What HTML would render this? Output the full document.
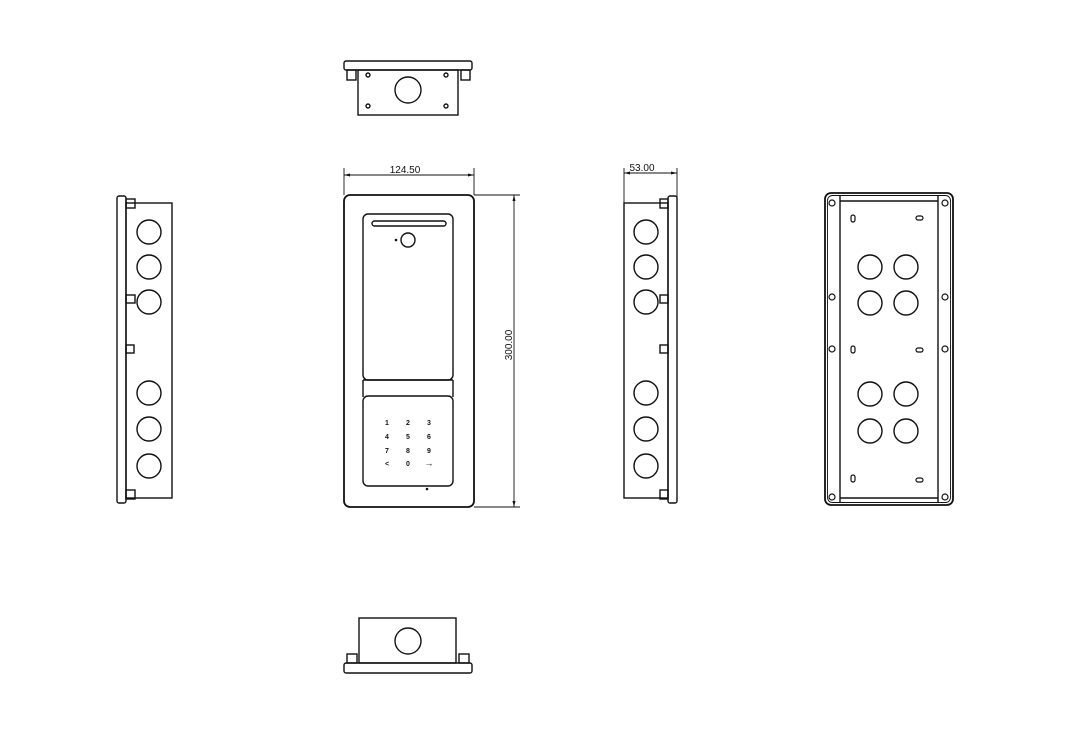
<!DOCTYPE html>
<html><head><style>html,body{margin:0;padding:0;background:#fff}svg{display:block}</style></head><body>
<svg width="1080" height="741" viewBox="0 0 1080 741" xmlns="http://www.w3.org/2000/svg" font-family="Liberation Sans, sans-serif">
<g fill="none" stroke="#111" stroke-width="1.4">
<!-- top view -->
<rect x="344" y="61" width="128" height="9" rx="2"/>
<rect x="347" y="70" width="9" height="10"/><rect x="461" y="70" width="9" height="10"/>
<rect x="358" y="70" width="100" height="45"/>
<circle cx="408" cy="90" r="13"/>
<circle cx="368" cy="75" r="2"/><circle cx="446" cy="75" r="2"/><circle cx="368" cy="106" r="2"/><circle cx="446" cy="106" r="2"/>
<!-- bottom view -->
<rect x="359" y="618" width="97" height="45"/>
<circle cx="408" cy="641" r="13"/>
<rect x="347" y="654" width="10" height="9"/><rect x="459" y="654" width="10" height="9"/>
<rect x="344" y="663" width="128" height="10" rx="2"/>
<!-- front -->
<rect x="344" y="195" width="130" height="312" rx="6" stroke-width="1.8"/>
<rect x="363" y="214" width="90" height="166" rx="5"/>
<rect x="372" y="221" width="74" height="5" rx="2.5"/>
<circle cx="408" cy="240" r="7"/>
<line x1="363" y1="380" x2="453" y2="380"/>
<line x1="363" y1="380" x2="363" y2="397"/><line x1="453" y1="380" x2="453" y2="397"/>
<rect x="363" y="396" width="90" height="90" rx="5"/>
<!-- dims -->
<line x1="344" y1="168" x2="344" y2="195" stroke-width="0.9"/>
<line x1="474" y1="168" x2="474" y2="195" stroke-width="0.9"/>
<line x1="344" y1="175" x2="474" y2="175" stroke-width="0.9"/>
<line x1="474" y1="195" x2="520" y2="195" stroke-width="0.9"/>
<line x1="474" y1="507" x2="520" y2="507" stroke-width="0.9"/>
<line x1="514" y1="195" x2="514" y2="507" stroke-width="0.9"/>
<line x1="624" y1="168" x2="624" y2="205" stroke-width="0.9"/>
<line x1="677" y1="168" x2="677" y2="197" stroke-width="0.9"/>
<line x1="624" y1="173" x2="677" y2="173" stroke-width="0.9"/>
<!-- left side -->
<rect x="117" y="196" width="9" height="307" rx="2"/>
<rect x="126" y="203" width="46" height="295"/>
<rect x="126" y="199" width="9" height="9"/><rect x="126" y="295" width="9" height="8"/><rect x="126" y="345" width="8" height="8"/><rect x="126" y="490" width="9" height="9"/>
<circle cx="149" cy="232" r="12"/><circle cx="149" cy="267" r="12"/><circle cx="149" cy="302" r="12"/>
<circle cx="149" cy="393" r="12"/><circle cx="149" cy="429" r="12"/><circle cx="149" cy="466" r="12"/>
<!-- mid side -->
<rect x="668" y="196" width="9" height="307" rx="2"/>
<rect x="624" y="203" width="44" height="295"/>
<rect x="660" y="199" width="8" height="9"/><rect x="660" y="295" width="8" height="8"/><rect x="660" y="345" width="8" height="8"/><rect x="660" y="490" width="8" height="9"/>
<circle cx="646" cy="232" r="12"/><circle cx="646" cy="267" r="12"/><circle cx="646" cy="302" r="12"/>
<circle cx="646" cy="393" r="12"/><circle cx="646" cy="429" r="12"/><circle cx="646" cy="466" r="12"/>
<!-- back -->
<rect x="825" y="193" width="128" height="312" rx="6" stroke-width="1.8"/>
<rect x="827.5" y="195.5" width="123" height="307" rx="5" stroke-width="0.9"/>
<line x1="840" y1="196" x2="840" y2="503"/><line x1="938" y1="196" x2="938" y2="503"/>
<line x1="840" y1="201" x2="938" y2="201"/><line x1="840" y1="498" x2="938" y2="498"/>
<circle cx="870" cy="267" r="12"/><circle cx="906" cy="267" r="12"/>
<circle cx="870" cy="303" r="12"/><circle cx="906" cy="303" r="12"/>
<circle cx="870" cy="394" r="12"/><circle cx="906" cy="394" r="12"/>
<circle cx="870" cy="431" r="12"/><circle cx="906" cy="431" r="12"/>
<g stroke-width="1.2">
<circle cx="832" cy="203" r="3"/><circle cx="945" cy="203" r="3"/>
<circle cx="832" cy="297" r="3"/><circle cx="945" cy="297" r="3"/>
<circle cx="832" cy="349" r="3"/><circle cx="945" cy="349" r="3"/>
<circle cx="832" cy="497" r="3"/><circle cx="945" cy="497" r="3"/>
<rect x="851" y="215" width="4" height="7" rx="2"/><rect x="916" y="216" width="7" height="4" rx="2"/>
<rect x="851" y="346" width="4" height="7" rx="2"/><rect x="916" y="348" width="7" height="4" rx="2"/>
<rect x="851" y="475" width="4" height="7" rx="2"/><rect x="916" y="478" width="7" height="4" rx="2"/>
</g>
</g>
<g fill="#111">
<circle cx="396" cy="240" r="1.3"/><circle cx="427" cy="489" r="1.3"/>
<polygon points="344,175 350,173.5 350,176.5"/><polygon points="474,175 468,173.5 468,176.5"/>
<polygon points="514,195 512.5,201 515.5,201"/><polygon points="514,507 512.5,501 515.5,501"/>
<polygon points="624,173 630,171.5 630,174.5"/><polygon points="677,173 671,171.5 671,174.5"/>
</g>
<g font-size="10" fill="#111">
<text x="405" y="173" text-anchor="middle">124.50</text>
<text x="642" y="171" text-anchor="middle">53.00</text>
<text transform="translate(512,345) rotate(-90)" text-anchor="middle">300.00</text>
</g>
<g font-size="7" font-weight="bold" fill="#111" text-anchor="middle">
<text x="387" y="425">1</text><text x="408" y="425">2</text><text x="429" y="425">3</text>
<text x="387" y="439">4</text><text x="408" y="439">5</text><text x="429" y="439">6</text>
<text x="387" y="453">7</text><text x="408" y="453">8</text><text x="429" y="453">9</text>
<text x="387" y="466">&lt;</text><text x="408" y="466">0</text><text x="429" y="466" font-size="9">→</text>
</g>
</svg>
</body></html>
